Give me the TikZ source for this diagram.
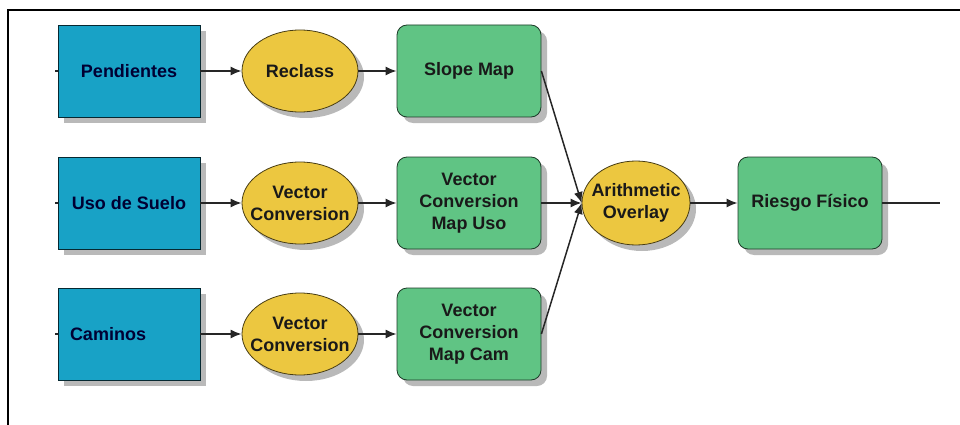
\documentclass[tikz,border=0pt]{standalone}
\usepackage{fontspec}
\setmainfont{Liberation Sans}
\usetikzlibrary{shapes.geometric,shadows,arrows.meta}
\definecolor{layerblue}{RGB}{24,162,198}
\definecolor{toolyellow}{RGB}{236,199,64}
\definecolor{mapgreen}{RGB}{96,196,132}
\definecolor{shadowgray}{RGB}{185,185,185}
\tikzset{
  boxshadow/.style={drop shadow={shadow xshift=6pt,shadow yshift=-6pt,fill=shadowgray,opacity=1}},
  nodefont/.style={font=\bfseries\fontsize{18}{22}\selectfont},
  datalayer/.style={rectangle,draw=black!75!layerblue,fill=layerblue,thick,
    minimum width=142pt,minimum height=92pt,boxshadow,nodefont,text=black!80!blue,align=center},
  tool/.style={ellipse,draw=black!70!toolyellow,fill=toolyellow,thick,inner xsep=-9pt,inner ysep=0pt,
    minimum width=116pt,minimum height=82pt,boxshadow,nodefont,text=black!90,align=center},
  mapbox/.style={rectangle,rounded corners=10pt,draw=black!70!mapgreen,fill=mapgreen,thick,
    minimum width=144pt,minimum height=92pt,boxshadow,nodefont,text=black!90,align=center},
  flow/.style={-{Latex[length=11pt,width=9pt]},line width=1.5pt,black!85},
  stub/.style={line width=1.5pt,black!85}
}
\begin{document}
\begin{tikzpicture}[x=1pt,y=-1pt]
\useasboundingbox (0,0) rectangle (960,425);
\draw[line width=2pt] (8,425) -- (8,10) -- (960,10);

\node[datalayer] (pend) at (129,71) {Pendientes};
\node[datalayer] (uso) at (129,203) {Uso de Suelo};
\node[datalayer,text width=118pt,inner xsep=12pt,align=left] (cam) at (129,334) {Caminos};

\node[tool] (recl) at (300,71) {Reclass};
\node[tool] (vecuso) at (300,203) {Vector\\Conversion};
\node[tool] (veccam) at (300,334) {Vector\\Conversion};

\node[mapbox] (slope) at (469,71) {Slope Map};
\node[mapbox] (mapuso) at (469,203) {Vector\\Conversion\\Map Uso};
\node[mapbox] (mapcam) at (469,334) {Vector\\Conversion\\Map Cam};

\node[tool,minimum width=108pt,minimum height=84pt] (arith) at (636,203) {Arithmetic\\Overlay};
\node[mapbox] (riesgo) at (810,203) {Riesgo Físico};
\coordinate (out) at (940,203);

\draw[stub] (pend.west) -- ++(-3,0);
\draw[stub] (uso.west) -- ++(-3,0);
\draw[stub] (cam.west) -- ++(-3,0);

\draw[flow] (pend.east) -- (recl.west);
\draw[flow] (uso.east) -- (vecuso.west);
\draw[flow] (cam.east) -- (veccam.west);
\draw[flow] (recl.east) -- (slope.west);
\draw[flow] (vecuso.east) -- (mapuso.west);
\draw[flow] (veccam.east) -- (mapcam.west);
\draw[flow] (slope.east) -- (arith.west);
\draw[flow] (mapuso.east) -- (arith.west);
\draw[flow] (mapcam.east) -- (arith.west);
\draw[flow] (arith.east) -- (riesgo.west);
\draw[stub] (riesgo.east) -- (out);
\end{tikzpicture}
\end{document}
